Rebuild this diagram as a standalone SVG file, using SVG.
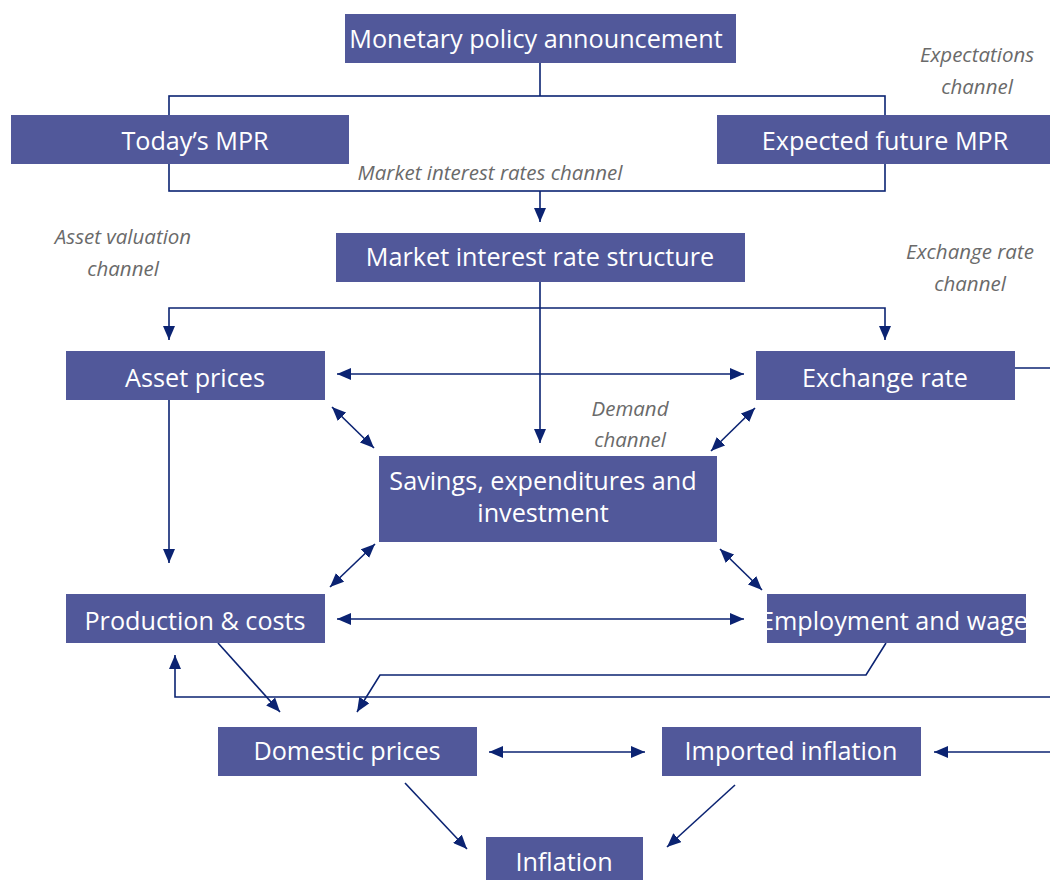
<svg xmlns="http://www.w3.org/2000/svg" width="1050" height="880" viewBox="0 0 1050 880">
<style>
.box{fill:#51589a}
.t{font-family:"Open Sans","Liberation Sans",sans-serif;font-size:25.2px;fill:#ffffff;text-anchor:middle}
.lab{font-family:"Open Sans","Liberation Sans",sans-serif;font-size:20.5px;font-style:italic;fill:#6a6a6a;text-anchor:middle}
.c{fill:none;stroke:#0b2372;stroke-width:1.6}
</style>
<defs>
<marker id="ah" viewBox="0 0 14 12" refX="14" refY="6" markerWidth="14" markerHeight="12" markerUnits="userSpaceOnUse" orient="auto-start-reverse">
<path d="M0,0 L14,6 L0,12 Z" fill="#0b2372"/>
</marker>
<clipPath id="empclip"><rect x="767" y="594" width="259" height="49"/></clipPath>
</defs>
<rect width="1050" height="880" fill="#ffffff"/>
<g id="connectors">
<path class="c" d="M540,63 V96"/>
<rect class="c" x="169" y="96" width="716" height="95"/>
<path class="c" d="M540,191 V222" marker-end="url(#ah)"/>
<path class="c" d="M540,282 V443" marker-end="url(#ah)"/>
<path class="c" d="M169,340 V308 H885 V340" marker-start="url(#ah)" marker-end="url(#ah)"/>
<path class="c" d="M337,374 H744" marker-start="url(#ah)" marker-end="url(#ah)"/>
<path class="c" d="M1015,368 H1050"/>
<path class="c" d="M169,400 V563" marker-end="url(#ah)"/>
<path class="c" d="M332,407 L374,448" marker-start="url(#ah)" marker-end="url(#ah)"/>
<path class="c" d="M755,408 L711,451" marker-start="url(#ah)" marker-end="url(#ah)"/>
<path class="c" d="M375,544 L330,587" marker-start="url(#ah)" marker-end="url(#ah)"/>
<path class="c" d="M720,549 L762,590" marker-start="url(#ah)" marker-end="url(#ah)"/>
<path class="c" d="M337,619 H744" marker-start="url(#ah)" marker-end="url(#ah)"/>
<path class="c" d="M218,643 L280,712" marker-end="url(#ah)"/>
<path class="c" d="M886,643 L866,675 H380 L357,712" marker-end="url(#ah)"/>
<path class="c" d="M1050,697 H175 V655" marker-end="url(#ah)"/>
<path class="c" d="M489,752 H645" marker-start="url(#ah)" marker-end="url(#ah)"/>
<path class="c" d="M1050,752 H934" marker-end="url(#ah)"/>
<path class="c" d="M405,783 L467,849" marker-end="url(#ah)"/>
<path class="c" d="M735,785 L667,847" marker-end="url(#ah)"/>
</g>
<g id="n-announcement"><rect class="box" x="345" y="14" width="391" height="49"/><text class="t" x="536" y="48">Monetary policy announcement</text></g>
<g id="n-today"><rect class="box" x="11" y="115" width="338" height="49"/><text class="t" x="195" y="150">Today’s MPR</text></g>
<g id="n-expected"><rect class="box" x="717" y="115" width="333" height="49"/><text class="t" x="885" y="150">Expected future MPR</text></g>
<g id="n-market"><rect class="box" x="336" y="233" width="409" height="49"/><text class="t" x="540" y="266">Market interest rate structure</text></g>
<g id="n-asset"><rect class="box" x="66" y="351" width="259" height="49"/><text class="t" x="195" y="387">Asset prices</text></g>
<g id="n-exchange"><rect class="box" x="756" y="351" width="259" height="49"/><text class="t" x="885" y="387">Exchange rate</text></g>
<g id="n-savings"><rect class="box" x="379" y="456" width="338" height="86"/><text class="t" x="543" y="490">Savings, expenditures and</text><text class="t" x="543" y="522">investment</text></g>
<g id="n-production"><rect class="box" x="66" y="594" width="259" height="49"/><text class="t" x="195" y="630">Production &amp; costs</text></g>
<g id="n-employment"><rect class="box" x="767" y="594" width="259" height="49"/><text class="t" x="900" y="630" clip-path="url(#empclip)">Employment and wages</text></g>
<g id="n-domestic"><rect class="box" x="218" y="727" width="259" height="49"/><text class="t" x="347" y="760">Domestic prices</text></g>
<g id="n-imported"><rect class="box" x="662" y="727" width="259" height="49"/><text class="t" x="791" y="760">Imported inflation</text></g>
<g id="n-inflation"><rect class="box" x="486" y="837" width="157" height="45"/><text class="t" x="564" y="871">Inflation</text></g>
<g id="labels">
<text class="lab" x="977" y="62">Expectations</text>
<text class="lab" x="977" y="94">channel</text>
<text class="lab" x="490" y="180">Market interest rates channel</text>
<text class="lab" x="123" y="244">Asset valuation</text>
<text class="lab" x="123" y="276">channel</text>
<text class="lab" x="970" y="259">Exchange rate</text>
<text class="lab" x="970" y="291">channel</text>
<text class="lab" x="630" y="416">Demand</text>
<text class="lab" x="630" y="447">channel</text>
</g>
</svg>
